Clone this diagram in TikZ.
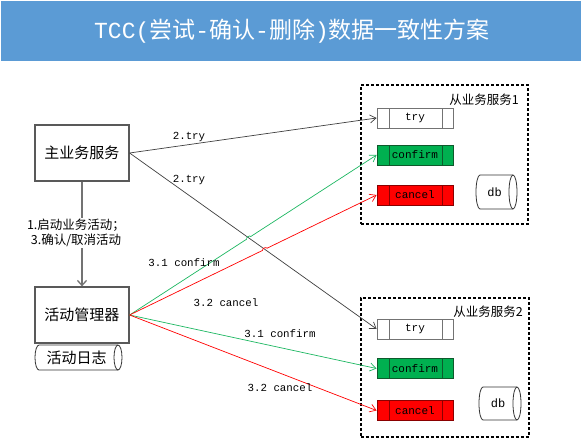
\documentclass[tikz,border=0pt]{standalone}
\usepackage{fontspec}
\newfontfamily\cjk{Noto Sans CJK SC}
\newfontfamily\mono{Liberation Mono}
\usetikzlibrary{arrows.meta,calc}
\definecolor{titleblue}{HTML}{5B9BD5}
\definecolor{okgreen}{HTML}{00B050}
\definecolor{okgreenline}{HTML}{1DB862}
\definecolor{darkgreen}{HTML}{0E5A2C}
\definecolor{darkred}{HTML}{8A0000}
\definecolor{conngray}{HTML}{404040}
\tikzset{
  svc/.style={draw=black!65, line width=1.2pt, minimum width=94pt, minimum height=56pt, inner sep=0pt, font=\cjk\fontsize{15}{18}\selectfont},
  proc/.style={draw=#1, line width=0.8pt, minimum width=76pt, minimum height=20pt, inner sep=0pt, font=\mono\fontsize{11}{13}\selectfont,
    path picture={\draw[#1, line width=0.8pt] ([xshift=12pt]path picture bounding box.north west) -- ([xshift=12pt]path picture bounding box.south west)
      ([xshift=-11pt]path picture bounding box.north east) -- ([xshift=-11pt]path picture bounding box.south east);}},
  container/.style={draw=black, line width=1.6pt, dash pattern=on 3pt off 2pt, inner sep=0pt, anchor=north west},
  tip/.style={-{Straight Barb[length=6pt,width=8pt]}},
  conn/.style={tip, draw=conngray, line width=0.7pt},
  gline/.style={tip, draw=okgreenline, line width=0.7pt},
  rline/.style={tip, draw=red, line width=0.7pt},
  lbl/.style={font=\mono\fontsize{10.8}{13}\selectfont, inner sep=0pt},
  cjklbl/.style={font=\cjk\fontsize{12.5}{15}\selectfont, inner sep=0pt},
}
% name, x0, y0, x1, y1, half height, text, font
\newcommand\hcyl[8]{%
  \draw[fill=white, line width=0.8pt, draw=black!80] ({#2+4},#3) -- ({#4-4},#3) arc[start angle=90,end angle=-90,x radius=4pt,y radius=#6pt]
    -- ({#2+4},#5) arc[start angle=270,end angle=90,x radius=4pt,y radius=#6pt] -- cycle;
  \draw[line width=0.8pt, draw=black!80] ({#4-4},#3) arc[start angle=90,end angle=270,x radius=4pt,y radius=#6pt];
  \node[font=#8, inner sep=0pt] (#1) at ({(#2+#4)/2-2},{(#3+#5)/2}) {#7};
}
\begin{document}
\begin{tikzpicture}[x=1pt,y=-1pt]
\useasboundingbox (0,0) rectangle (582,439);
\fill[white] (0,0) rectangle (582,439);
% title
\node[fill=titleblue, minimum width=580pt, minimum height=60pt, inner sep=0pt, anchor=north west] (titlebar) at (1,1) {};
\node[font=\cjk\fontsize{23}{26}\selectfont, text=white] (title) at (292,31) {{\mono TCC(}尝试{\mono -}确认{\mono -}删除{\mono )}数据一致性方案};
% left side
\node[svc] (main) at (82,153) {主业务服务};
\node[svc] (mgr) at (82,315) {活动管理器};
\hcyl{log}{35}{345}{122}{370}{12.5}{活动日志}{\cjk\fontsize{15}{18}\selectfont}
\draw[draw=black!55, line width=1.3pt, -{Straight Barb[length=5pt,width=9pt]}] (main.south) -- (mgr.north);
\node[fill=white, font=\cjk\fontsize{12.5}{15}\selectfont, align=center, inner sep=1pt] (steplbl) at (76,233) {1.启动业务活动；\\3.确认/取消活动};
% containers
\node[container, minimum width=167pt, minimum height=139pt] (svc1) at (360,84) {};
\node[container, minimum width=168pt, minimum height=139pt] (svc2) at (360,297) {};
\node[cjklbl, anchor=east] (svc1lbl) at (519,100) {从业务服务1};
\node[cjklbl, anchor=east] (svc2lbl) at (523,312) {从业务服务2};
% service 1
\node[proc=black!55, fill=white] (try1) at (415,118) {try};
\node[proc=darkgreen, fill=okgreen] (conf1) at (415,155) {confirm};
\node[proc=darkred, fill=red] (canc1) at (415,195) {cancel};
\hcyl{db1}{476}{175}{517}{209}{17}{db}{\mono\fontsize{12}{14}\selectfont}
% service 2
\node[proc=black!55, fill=white] (try2) at (415,329) {try};
\node[proc=darkgreen, fill=okgreen] (conf2) at (415,368.5) {confirm};
\node[proc=darkred, fill=red] (canc2) at (415,410.5) {cancel};
\hcyl{db2}{479}{387}{521}{420}{16.5}{db}{\mono\fontsize{12}{14}\selectfont}
% connectors
\draw[conn] (main.east) -- (try1.west);
\draw[conn] (main.east) -- (try2.west);
\coordinate (I1) at (intersection of main.east--try2.west and mgr.east--conf1.west);
\coordinate (I2) at (intersection of main.east--try2.west and mgr.east--canc1.west);
\draw[gline] (mgr.east) -- ($(I1)!2.5pt!(mgr.east)$) to[bend left=90] ($(I1)!2.5pt!(conf1.west)$) -- (conf1.west);
\draw[rline] (mgr.east) -- ($(I2)!2.5pt!(mgr.east)$) to[bend left=90] ($(I2)!2.5pt!(canc1.west)$) -- (canc1.west);
\draw[gline] (mgr.east) -- (conf2.west);
\draw[rline] (mgr.east) -- (canc2.west);
% labels
\node[lbl] (l1) at (189,137) {2.try};
\node[lbl] (l2) at (189,180) {2.try};
\node[lbl] (l3) at (184,263) {3.1 confirm};
\node[lbl] (l4) at (226,303) {3.2 cancel};
\node[lbl] (l5) at (280,334) {3.1 confirm};
\node[lbl] (l6) at (280,388) {3.2 cancel};
\end{tikzpicture}
\end{document}
